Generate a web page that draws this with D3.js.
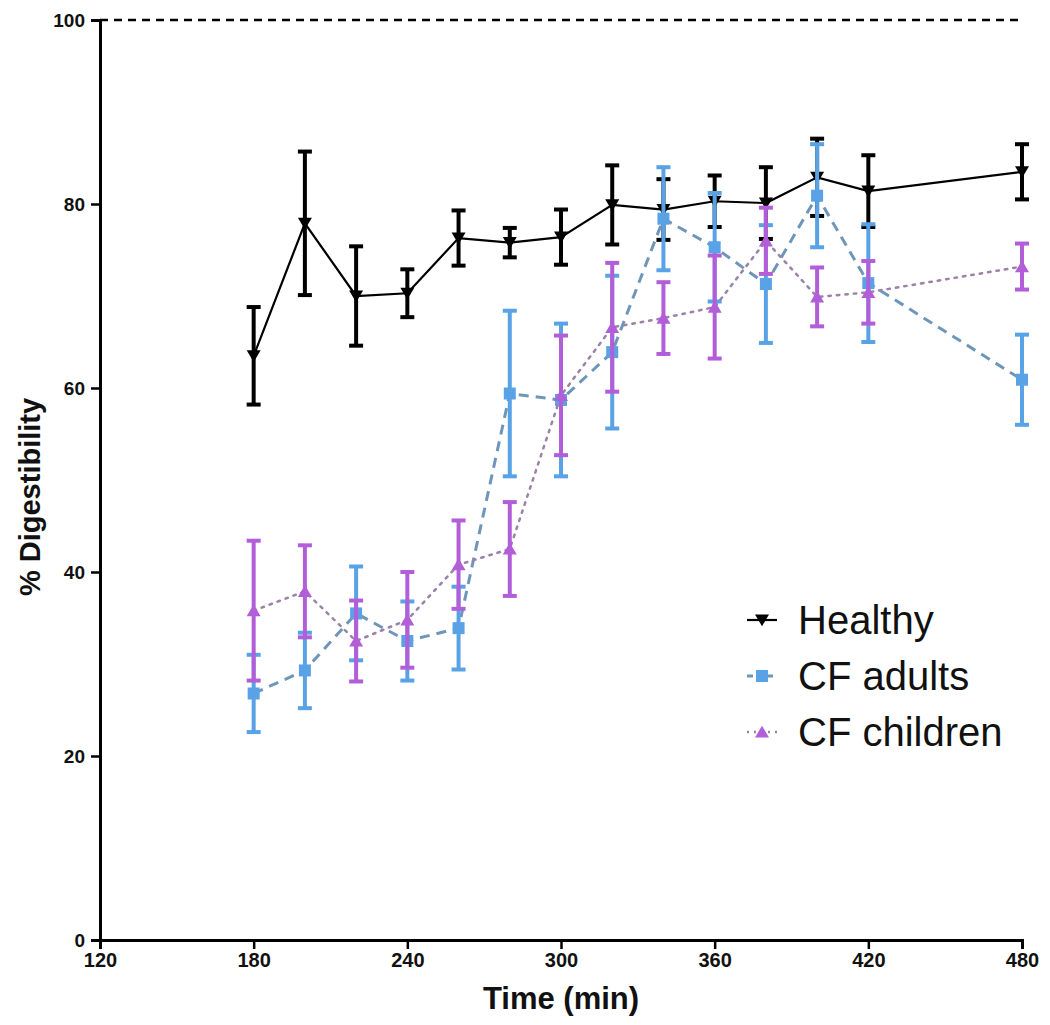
<!DOCTYPE html>
<html>
<head>
<meta charset="utf-8">
<script src="https://cdn.jsdelivr.net/npm/d3@7"></script>
<style>
  html, body { margin: 0; padding: 0; background: #fff; }
  svg { display: block; }
</style>
</head>
<body>
<svg id="chart" width="1050" height="1025"></svg>
<script>
// ---- data ----
const times = [180, 200, 220, 240, 260, 280, 300, 320, 340, 360, 380, 400, 420, 480];
const healthyMean = [63.5, 77.9, 70.0, 70.3, 76.3, 75.8, 76.4, 79.9, 79.4, 80.3, 80.1, 82.9, 81.4, 83.5];
const healthyErr  = [5.3, 7.8, 5.4, 2.6, 3.0, 1.6, 3.0, 4.3, 3.3, 2.8, 3.9, 4.2, 3.9, 3.0];
const adultsMean  = [26.8, 29.3, 35.5, 32.5, 33.9, 59.4, 58.7, 63.9, 78.4, 75.3, 71.3, 80.9, 71.4, 60.9];
const adultsErr   = [4.2, 4.1, 5.1, 4.3, 4.5, 9.0, 8.3, 8.3, 5.6, 5.9, 6.4, 5.6, 6.4, 4.9];
const childMean   = [35.8, 37.9, 32.5, 34.8, 40.8, 42.5, 59.2, 66.6, 67.6, 68.8, 76.0, 69.9, 70.4, 73.2];
const childErr    = [7.6, 5.0, 4.4, 5.2, 4.8, 5.1, 6.5, 7.0, 3.9, 5.6, 3.6, 3.2, 3.4, 2.5];
const xTicks = [120, 180, 240, 300, 360, 420, 480];
const yTicks = [0, 20, 40, 60, 80, 100];
const seriesNames = ["Healthy", "CF adults", "CF children"];

// ---- layout ----
const svg = d3.select("#chart");
const x = d3.scaleLinear().domain([120, 480]).range([100, 1022]);
const y = d3.scaleLinear().domain([0, 100]).range([940, 20]);
const FONT = "'Liberation Sans', Arial, sans-serif";

// reference line at 100
svg.append("line")
  .attr("x1", x(120)).attr("x2", x(480))
  .attr("y1", y(100)).attr("y2", y(100))
  .attr("stroke", "#000").attr("stroke-width", 2.5)
  .attr("stroke-dasharray", "8,6");

// axes
const xAxis = svg.append("g").attr("transform", `translate(0,${y(0)})`)
  .call(d3.axisBottom(x).tickValues(xTicks).tickSize(9).tickPadding(4).tickFormat(d3.format("d")));
const yAxis = svg.append("g").attr("transform", `translate(${x(120)},0)`)
  .call(d3.axisLeft(y).tickValues(yTicks).tickSize(9).tickPadding(6));
[xAxis, yAxis].forEach(g => {
  g.select(".domain").attr("stroke", "#000").attr("stroke-width", 3);
  g.selectAll(".tick line").attr("stroke", "#000").attr("stroke-width", 2.5);
});
xAxis.selectAll("text")
  .attr("font-family", FONT)
  .attr("font-weight", "bold").attr("font-size", 20).attr("fill", "#111");
yAxis.selectAll("text")
  .attr("font-family", FONT)
  .attr("font-weight", "bold").attr("font-size", 19).attr("fill", "#111");

// axis titles
svg.append("text")
  .attr("x", (x(120) + x(480)) / 2).attr("y", 1009)
  .attr("text-anchor", "middle")
  .attr("font-family", FONT)
  .attr("font-weight", "bold").attr("font-size", 31).attr("fill", "#111")
  .text("Time (min)");
svg.append("text")
  .attr("transform", `translate(40,497) rotate(-90)`)
  .attr("text-anchor", "middle")
  .attr("font-family", FONT)
  .attr("font-weight", "bold").attr("font-size", 29).attr("fill", "#111")
  .text("% Digestibility");

// ---- series ----
const series = [
  { name: seriesNames[0], mean: healthyMean, err: healthyErr, color: "#000000", lineColor: "#000000",
    dash: null, lw: 2.2, symbol: "down" },
  { name: seriesNames[1], mean: adultsMean, err: adultsErr, color: "#5aa2e6", lineColor: "#6e96b8",
    dash: "10,7", lw: 3, symbol: "square" },
  { name: seriesNames[2], mean: childMean, err: childErr, color: "#b25ed8", lineColor: "#9a82a8",
    dash: "2.5,6", lw: 2.5, symbol: "up" }
];

const line = d3.line().x(d => x(d.t)).y(d => y(d.v));

function symbolPath(type, cx, cy, s) {
  if (type === "down") {
    return `M${cx - s},${cy - s * 0.8}L${cx + s},${cy - s * 0.8}L${cx},${cy + s * 0.9}Z`;
  } else if (type === "up") {
    return `M${cx - s},${cy + s * 0.8}L${cx + s},${cy + s * 0.8}L${cx},${cy - s * 0.9}Z`;
  }
  return `M${cx - s},${cy - s}h${2 * s}v${2 * s}h${-2 * s}Z`;
}

series.forEach(s => {
  const pts = times.map((t, i) => ({ t, v: s.mean[i], e: s.err[i] }));
  const g = svg.append("g");
  // connecting line
  g.append("path").datum(pts)
    .attr("d", line)
    .attr("fill", "none")
    .attr("stroke", s.lineColor)
    .attr("stroke-width", s.lw)
    .attr("stroke-dasharray", s.dash)
    .attr("stroke-linecap", s.dash && s.dash.startsWith("2.5") ? "round" : "butt");
  // error bars
  const eb = g.selectAll(".eb").data(pts).enter().append("g");
  eb.append("line")
    .attr("x1", d => x(d.t)).attr("x2", d => x(d.t))
    .attr("y1", d => y(d.v + d.e)).attr("y2", d => y(d.v - d.e))
    .attr("stroke", s.color).attr("stroke-width", 4);
  [1, -1].forEach(sign => {
    eb.append("line")
      .attr("x1", d => x(d.t) - 7).attr("x2", d => x(d.t) + 7)
      .attr("y1", d => y(d.v + sign * d.e)).attr("y2", d => y(d.v + sign * d.e))
      .attr("stroke", s.color).attr("stroke-width", 4);
  });
  // markers
  g.selectAll(".mk").data(pts).enter().append("path")
    .attr("d", d => symbolPath(s.symbol, x(d.t), y(d.v), s.symbol === "square" ? 6 : 7))
    .attr("fill", s.color);
});

// ---- legend ----
const legendX = 747, legendY0 = 620, legendStep = 56;
series.forEach((s, i) => {
  const ly = legendY0 + i * legendStep;
  const lg = svg.append("g");
  lg.append("line")
    .attr("x1", legendX).attr("x2", legendX + 30)
    .attr("y1", ly).attr("y2", ly)
    .attr("stroke", s.lineColor).attr("stroke-width", s.lw)
    .attr("stroke-dasharray", s.dash ? (s.symbol === "square" ? "6,4" : "2,5") : null);
  lg.append("path")
    .attr("d", symbolPath(s.symbol, legendX + 15, ly, s.symbol === "square" ? 6 : 7))
    .attr("fill", s.color);
  lg.append("text")
    .attr("x", 798).attr("y", ly + 14)
    .attr("font-family", FONT)
    .attr("font-size", 40).attr("fill", "#111")
    .text(s.name);
});
</script>
</body>
</html>
